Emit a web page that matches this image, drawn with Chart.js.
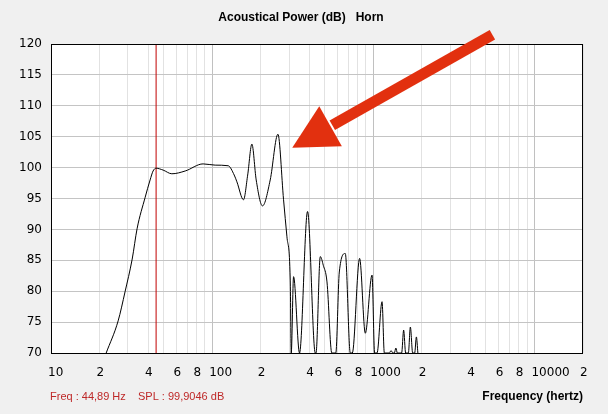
<!DOCTYPE html>
<html lang="en">
<head>
    <meta charset="UTF-8">
    <title>Acoustical Power</title>
    <script src="https://cdn.jsdelivr.net/npm/chart.js"></script>
    <style>
        body { margin: 0; background: #f0f0f0; }
        canvas { display: block; }
    </style>
</head>
<body>
    <canvas id="powerChart" width="608" height="414"></canvas>

    <script>
        // frequency response (Hz / dB)
        const freqHz = [22, 26.1, 28.8, 31.9, 34.2, 38.4, 41.2, 43.0, 44.9, 49.6, 56.2, 68, 87.9, 104.4, 125.7,
            137, 142.4, 156.5, 166.1, 176.4, 187.6, 205.3, 229.2, 255.9, 277.3, 291.1, 305.1, 309.5, 320, 348.4,
            390.8, 436.3, 441, 468.7, 489.2, 515.8, 552.5, 585, 615, 670, 719.5, 740.6, 822.1, 891.9, 981.5,
            1018.8, 1054.4, 1132.5, 1170.4, 1257.6, 1288, 1321.7, 1350.3, 1380, 1409.7, 1498.8, 1542.4, 1587,
            1650, 1697.6, 1754.6, 1805.5, 1850, 1890];
        const splDb = [70, 75.2, 79.9, 85.2, 90.1, 95.2, 98.0, 99.45, 99.9, 99.6, 99.0, 99.45, 100.6, 100.4, 100.3,
            98.8, 97.7, 94.8, 98.8, 103.8, 98.0, 93.8, 98.0, 105.4, 94.8, 88.8, 81.8, 70, 82.35, 70,
            92.9, 70, 70, 85.6, 84.2, 81.5, 70, 70, 83.1, 86.1, 70, 70, 85.3, 73.2, 82.6,
            70, 70, 78.3, 70, 70, 70.4, 70, 70, 70.8, 70, 70, 73.7, 70,
            70, 74.2, 70, 70, 72.6, 70];

        // cursor
        const markerFreq = 44.89;
        const markerSpl = 99.9046;

        // axis ticks
        const xTickValues = [10, 20, 30, 40, 50, 60, 70, 80, 90,
            100, 200, 300, 400, 500, 600, 700, 800, 900,
            1000, 2000, 3000, 4000, 5000, 6000, 7000, 8000, 9000,
            10000, 20000];
        const xTickLabels = ['10', '2', '', '4', '', '6', '', '8', '',
            '100', '2', '', '4', '', '6', '', '8', '',
            '1000', '2', '', '4', '', '6', '', '8', '',
            '10000', '2'];
        const yMin = 70, yMax = 120, yStep = 5;

        // arrow annotation (Hz, dB)
        const arrowTail = [5480, 121.5];
        const arrowTip = [314, 103.2];

        const tickFont = { family: '"DejaVu Sans"', size: 12 };

        const decorations = {
            id: 'decorations',
            beforeDraw(chart) {
                const c = chart.ctx, a = chart.chartArea;
                c.save();
                c.fillStyle = '#f0f0f0';
                c.fillRect(0, 0, chart.width, chart.height);
                c.fillStyle = '#ffffff';
                c.fillRect(a.left, a.top, a.right - a.left, a.bottom - a.top);
                c.restore();
            },
            afterDraw(chart) {
                const c = chart.ctx, a = chart.chartArea;
                const xs = chart.scales.x, ys = chart.scales.y;
                c.save();
                // frame
                c.strokeStyle = '#000';
                c.lineWidth = 1;
                c.strokeRect(Math.round(a.left) + 0.5, Math.round(a.top) + 0.5,
                    Math.round(a.right - a.left) - 1, Math.round(a.bottom - a.top));

                // title
                c.fillStyle = '#000';
                c.font = 'bold 12px "Liberation Sans"';
                c.textAlign = 'center';
                c.textBaseline = 'middle';
                c.fillText('Acoustical Power (dB)   Horn', 301, 18);

                // bottom texts
                c.textAlign = 'right';
                c.fillText('Frequency (hertz)', 583, 397);
                c.font = '11px "Liberation Sans"';
                c.fillStyle = 'rgb(190,40,40)';
                c.textAlign = 'left';
                c.fillText('Freq : ' + markerFreq.toFixed(2).replace('.', ',') + ' Hz', 50, 397);
                c.fillText('SPL : ' + markerSpl.toFixed(4).replace('.', ',') + ' dB', 138, 397);

                // arrow
                const tx = xs.getPixelForValue(arrowTip[0]), ty = ys.getPixelForValue(arrowTip[1]);
                const sx = xs.getPixelForValue(arrowTail[0]), sy = ys.getPixelForValue(arrowTail[1]);
                const len = Math.hypot(sx - tx, sy - ty);
                const ux = (sx - tx) / len, uy = (sy - ty) / len;
                const headLen = 44, headHalf = 23;
                const bx = tx + ux * headLen, by = ty + uy * headLen;
                c.fillStyle = '#e2300f';
                c.strokeStyle = '#e2300f';
                c.lineWidth = 11;
                c.lineCap = 'butt';
                c.beginPath();
                c.moveTo(bx + ux * 2, by + uy * 2);
                c.lineTo(sx, sy);
                c.stroke();
                c.beginPath();
                c.moveTo(tx, ty);
                c.lineTo(bx - uy * headHalf, by + ux * headHalf);
                c.lineTo(bx + uy * headHalf, by - ux * headHalf);
                c.closePath();
                c.fill();
                c.restore();
            }
        };

        const ctx = document.getElementById('powerChart').getContext('2d');
        new Chart(ctx, {
            type: 'line',
            data: {
                datasets: [{
                    data: freqHz.map((f, i) => ({ x: f, y: splDb[i] })),
                    borderColor: '#000',
                    borderWidth: 1,
                    pointRadius: 0,
                    cubicInterpolationMode: 'monotone',
                    order: 1
                }, {
                    data: [{ x: markerFreq, y: yMin }, { x: markerFreq, y: yMax }],
                    borderColor: '#c00000',
                    borderWidth: 1,
                    pointRadius: 0,
                    order: 2
                }]
            },
            options: {
                responsive: false,
                animation: false,
                layout: { padding: { top: 44, right: 25, left: 0, bottom: 0 } },
                plugins: {
                    legend: { display: false },
                    tooltip: { enabled: false }
                },
                scales: {
                    x: {
                        type: 'logarithmic',
                        min: 10,
                        max: 20000,
                        afterBuildTicks: s => { s.ticks = xTickValues.map(v => ({ value: v })); },
                        afterFit: s => { s.height = 61; },
                        border: { display: false },
                        grid: {
                            drawTicks: false,
                            color: c => {
                                const v = c.tick ? c.tick.value : 0;
                                const m = v / Math.pow(10, Math.floor(Math.log10(v) + 1e-9));
                                return Math.abs(m - 1) < 1e-6 ? '#c0c0c0' : '#e2e2e2';
                            }
                        },
                        ticks: {
                            autoSkip: false,
                            maxRotation: 0,
                            align: 'start',
                            labelOffset: -3,
                            padding: 13,
                            color: '#000',
                            font: tickFont,
                            callback: (v, i) => xTickLabels[i]
                        }
                    },
                    y: {
                        min: yMin,
                        max: yMax,
                        afterFit: s => { s.width = 51; },
                        border: { display: false },
                        grid: { drawTicks: false, color: '#c4c4c4' },
                        ticks: {
                            stepSize: yStep,
                            padding: 9,
                            color: '#000',
                            font: tickFont
                        }
                    }
                }
            },
            plugins: [decorations]
        });
    </script>
</body>
</html>
